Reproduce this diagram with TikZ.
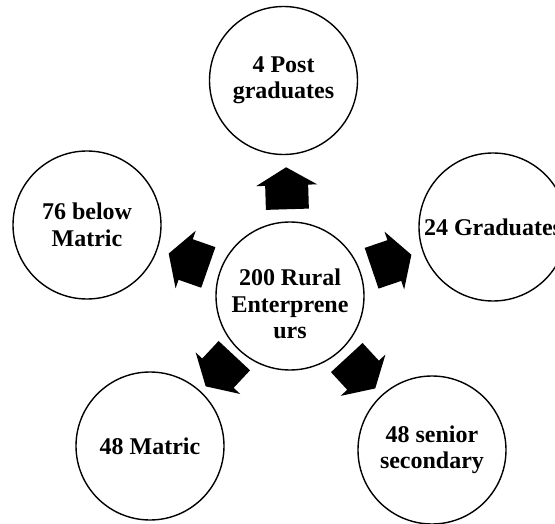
\documentclass[tikz,border=0pt]{standalone}
\usepackage{fontspec}
\setmainfont{Liberation Serif}
\usetikzlibrary{calc}
\tikzset{
  bubble/.style={circle, draw=black, line width=1.4pt, minimum size=148pt,
    inner sep=0pt, align=center, font=\bfseries\fontsize{24}{26.5}\selectfont},
  bubbletext/.style={inner sep=0pt, align=center, font=\bfseries\fontsize{24}{26.5}\selectfont},
  blockarrow/.style={fill=black, draw=none}
}
% block arrow centred between two named nodes, pointing from #1 to #2
\newcommand\radialarrow[3]{%
  \coordinate (#3) at ($(#1)!0.5!(#2)$);
  \fill[blockarrow]
    ($(#3)!21pt!0:(#2)$) --
    ($(#3)!30.65pt!84.38:(#2)$) --
    ($(#3)!21.71pt!82.06:(#2)$) --
    ($(#3)!30.05pt!134.33:(#2)$) --
    ($(#3)!30.05pt!-134.33:(#2)$) --
    ($(#3)!21.71pt!-82.06:(#2)$) --
    ($(#3)!30.65pt!-84.38:(#2)$) -- cycle;}
\begin{document}
\begin{tikzpicture}[x=1pt,y=-1pt]
  \useasboundingbox (0,0) rectangle (555,524);
  \node[bubble] (c)  at (290,296)   {};
  \node[bubbletext] (ct) at (290,304) {200 Rural\\Enterprene\\urs};
  \node[bubble] (t)  at (283.5,80.5) {4 Post\\graduates};
  \node[bubble] (l)  at (87,225)    {76 below\\Matric};
  \node[bubble] (r)  at (493,227)   {24 Graduates};
  \node[bubble] (bl) at (150,446)   {48 Matric};
  \node[bubble] (br) at (432,450)   {48 senior\\secondary};
  \radialarrow{c}{t}{at}
  \radialarrow{c}{l}{al}
  \radialarrow{c}{r}{ar}
  \radialarrow{c}{bl}{abl}
  \radialarrow{c}{br}{abr}
\end{tikzpicture}
\end{document}
